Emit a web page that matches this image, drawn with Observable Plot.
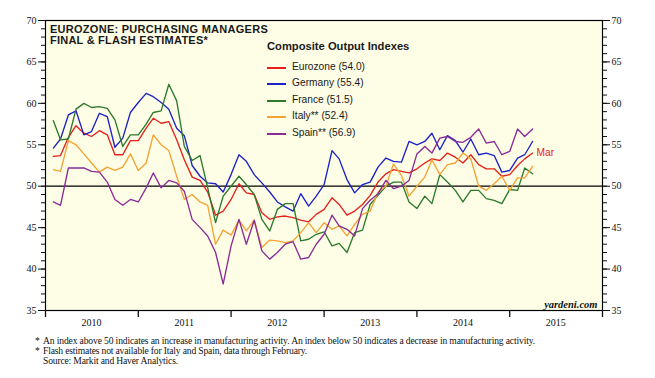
<!DOCTYPE html>
<html><head><meta charset="utf-8">
<script src="https://cdn.jsdelivr.net/npm/d3@7"></script>
<script src="https://cdn.jsdelivr.net/npm/@observablehq/plot@0.6"></script>
<style>
body{margin:0;background:#fff;}
#wrap{position:relative;width:655px;height:378px;overflow:hidden;font-family:"Liberation Sans",Arial,sans-serif;}
#chart{position:absolute;left:0;top:0;}
.t{position:absolute;white-space:nowrap;display:inline-block;}
.title{left:50px;font-weight:bold;font-size:11px;line-height:11px;color:#1a1a1a;}
.lhead{left:267px;top:40px;font-weight:bold;font-size:11.2px;line-height:12px;color:#1a1a1a;}
.item{left:267px;font-size:10.2px;color:#1a1a1a;height:12px;line-height:12px;}
.sw{position:absolute;left:267px;width:19px;height:1.6px;}
.note{left:43px;font-family:"Liberation Serif","Times New Roman",serif;font-size:9.6px;line-height:10px;color:#111;}
.star{left:35px;font-family:"Liberation Serif","Times New Roman",serif;font-size:9.6px;line-height:10px;color:#111;}
</style></head>
<body>
<div id="wrap">
  <div id="chart"></div>
  <span class="t title" style="top:23.5px" data-w="218">EUROZONE: PURCHASING MANAGERS</span>
  <span class="t title" style="top:34.8px" data-w="158">FINAL &amp; FLASH ESTIMATES*</span>
  <span class="t lhead">Composite Output Indexes</span>
  <div id="legend"></div>
  <span class="t star" style="top:336px">*</span>
  <span class="t note" style="top:336px" data-w="492">An index above 50 indicates an increase in manufacturing activity. An index below 50 indicates a decrease in manufacturing activity.</span>
  <span class="t star" style="top:346px">*</span>
  <span class="t note" style="top:346px" data-w="264">Flash estimates not available for Italy and Spain, data through February.</span>
  <span class="t note" style="top:356px" data-w="135">Source: Markit and Haver Analytics.</span>
</div>
<script>
const seriesNames = ["Eurozone", "Germany", "France", "Italy**", "Spain**"];
const legendValues = ["54.0", "55.4", "51.5", "52.4", "56.9"];
const legendWidths = [73, 71.6, 61, 56, 63.3];
const seriesColors = ["#e3211c", "#1c22c8", "#2c7a2c", "#f4a233", "#8a2b97"];
const yearLabels = [2010, 2011, 2012, 2013, 2014, 2015];

// Monthly values Jan 2010 .. Mar 2015 (plotted at month end)
const eurozone = [
53.6, 53.7, 55.9, 57.3, 56.4, 56.0, 56.7, 56.2, 53.8, 53.8, 55.5, 55.5,
57.0, 58.2, 57.6, 57.8, 55.6, 53.2, 51.1, 50.7, 49.3, 46.5, 47.0, 48.4,
50.3, 49.2, 49.0, 46.8, 46.0, 46.3, 46.4, 46.2, 45.9, 45.7, 46.6, 47.2,
48.6, 47.8, 46.5, 47.0, 47.8, 48.9, 50.5, 51.5, 52.0, 51.8, 51.6, 52.1,
52.8, 53.3, 53.1, 54.0, 53.5, 52.8, 53.8, 52.6, 52.1, 52.1, 51.2, 51.4,
52.5, 53.3, 54.0];
const germany = [
54.6, 55.7, 58.6, 59.1, 56.2, 56.6, 58.8, 58.4, 54.7, 55.8, 58.9, 60.1,
61.2, 60.8, 60.1, 59.3, 57.0, 56.1, 52.5, 51.2, 50.4, 50.3, 49.3, 51.4,
53.8, 53.0, 51.4, 50.4, 49.3, 48.1, 47.5, 47.0, 49.1, 47.6, 48.8, 50.2,
54.3, 53.3, 50.8, 49.2, 50.2, 50.5, 52.3, 53.4, 53.0, 52.9, 55.4, 55.0,
55.4, 56.4, 54.4, 56.1, 55.5, 54.1, 55.7, 53.8, 54.0, 53.7, 51.7, 51.9,
53.4, 53.8, 55.4];
const france = [
57.9, 55.6, 55.7, 59.3, 60.0, 59.5, 59.6, 59.4, 58.0, 54.8, 56.2, 56.2,
57.5, 58.9, 59.1, 62.3, 60.3, 54.8, 53.1, 53.7, 49.8, 45.6, 48.8, 50.0,
51.2, 50.2, 49.0, 46.0, 44.6, 47.2, 47.9, 47.9, 43.4, 43.6, 44.2, 44.5,
42.8, 43.1, 42.0, 44.4, 44.7, 47.8, 48.9, 50.0, 50.5, 50.5, 48.1, 47.3,
48.8, 47.9, 51.4, 50.5, 49.5, 48.1, 49.5, 49.5, 48.5, 48.3, 47.9, 49.6,
49.5, 52.2, 51.5];
const italy = [
52.0, 51.8, 55.5, 55.0, 53.9, 52.8, 51.7, 52.3, 51.9, 52.3, 53.9, 51.9,
52.8, 56.2, 55.0, 54.3, 51.2, 48.4, 49.0, 48.1, 47.7, 43.0, 44.7, 44.1,
45.9, 44.6, 45.9, 42.6, 43.5, 43.4, 43.2, 43.4, 44.4, 45.6, 44.4, 45.6,
44.8, 45.2, 44.0, 45.4, 46.6, 47.0, 49.3, 50.0, 52.7, 51.3, 48.8, 50.0,
51.1, 53.2, 51.4, 52.6, 52.8, 54.0, 53.3, 50.0, 49.5, 50.3, 51.2, 49.5,
51.0, 51.0, 52.4];
const spain = [
48.1, 47.7, 52.2, 52.2, 52.2, 51.8, 51.7, 50.5, 48.4, 47.7, 48.4, 48.1,
49.8, 51.6, 49.8, 50.7, 50.4, 49.4, 46.0, 45.0, 44.0, 42.0, 38.2, 42.8,
46.0, 43.0, 45.9, 42.2, 41.2, 42.0, 43.0, 43.3, 41.2, 41.4, 43.0, 44.2,
46.5, 45.2, 44.8, 44.0, 47.3, 48.3, 49.1, 50.7, 49.7, 50.0, 50.7, 53.9,
54.8, 54.0, 55.8, 56.0, 55.4, 55.3, 55.9, 56.9, 55.2, 55.4, 53.8, 54.2,
56.9, 56.0, 56.9];

const seriesValues = [eurozone, germany, france, italy, spain];
// month-end positions: end of Jan 2010 ... end of Mar 2015
const dates = d3.utcMonth.range(new Date(Date.UTC(2010, 1, 1)), new Date(Date.UTC(2015, 3, 2)));

const data = [];
seriesValues.forEach((vals, s) => vals.forEach((v, i) => data.push({series: seriesNames[s], date: dates[i], value: v})));

const yearTicks = d3.range(2010, 2017).map(y => new Date(Date.UTC(y, 0, 1)));
const yearMids = yearLabels.map(y => new Date(Date.UTC(y, 6, 1)));
const lastEZ = {date: dates[eurozone.length - 1], value: eurozone[eurozone.length - 1]};

const serif = "'Liberation Serif','Times New Roman',serif";
const chart = Plot.plot({
  width: 655, height: 378,
  marginLeft: 45, marginRight: 53, marginTop: 20, marginBottom: 68,
  x: {type: "utc", domain: [yearTicks[0], yearTicks[6]]},
  y: {domain: [35, 70]},
  color: {domain: seriesNames, range: seriesColors},
  style: {fontFamily: serif, fontSize: "10px", background: "transparent", color: "#111"},
  marks: [
    Plot.frame({fill: "#fefee7", stroke: null}),
    Plot.ruleY([50], {stroke: "#000", strokeWidth: 1.3}),
    Plot.line(data, {x: "date", y: "value", z: "series", stroke: "series", strokeWidth: 1.35}),
    Plot.text([lastEZ], {x: "date", y: "value", text: () => "Mar", dx: 4, textAnchor: "start", fill: seriesColors[0], fontFamily: "'Liberation Sans',Arial,sans-serif", fontSize: 10.2}),
    Plot.text(["yardeni.com"], {frameAnchor: "bottom-right", dx: -5, dy: -3, lineAnchor: "bottom", textAnchor: "end", fontStyle: "italic", fontWeight: "bold", fontSize: 10.5, fontFamily: serif, fill: "#111"}),
    Plot.frame({stroke: "#000", strokeWidth: 1.2}),
    Plot.axisY({anchor: "left", ticks: d3.range(35, 71, 1), tickSize: 4, tickFormat: () => "", label: null}),
    Plot.axisY({anchor: "left", ticks: d3.range(35, 71, 5), tickSize: 7, tickPadding: 2, label: null}),
    Plot.axisY({anchor: "right", ticks: d3.range(35, 71, 1), tickSize: 4, tickFormat: () => "", label: null}),
    Plot.axisY({anchor: "right", ticks: d3.range(35, 71, 5), tickSize: 7, tickPadding: 2, label: null}),
    Plot.axisX({anchor: "bottom", ticks: yearTicks, tickSize: 7, strokeWidth: 1.3, tickFormat: () => "", label: null}),
    Plot.axisX({anchor: "bottom", ticks: yearMids, tickSize: 0, tickPadding: 8, tickFormat: d3.utcFormat("%Y"), label: null})
  ]
});
document.getElementById("chart").appendChild(chart);

const legend = document.getElementById("legend");
seriesNames.forEach((name, i) => {
  const top = Math.round(61 + i * 16.4);
  const sw = document.createElement("div");
  sw.className = "sw";
  sw.style.top = (top + 6) + "px";
  sw.style.backgroundColor = seriesColors[i];
  legend.appendChild(sw);
  const t = document.createElement("span");
  t.className = "t item";
  t.style.left = "292px";
  t.style.top = top + "px";
  t.dataset.w = legendWidths[i];
  t.textContent = `${name} (${legendValues[i]})`;
  legend.appendChild(t);
});

// fit text widths to the reference by adjusting letter spacing
document.querySelectorAll("[data-w]").forEach(el => {
  el.style.letterSpacing = "0px";
  const w = el.getBoundingClientRect().width;
  const n = el.textContent.length;
  const target = +el.dataset.w;
  el.style.letterSpacing = ((target - w) / n).toFixed(3) + "px";
});
</script>
</body></html>
